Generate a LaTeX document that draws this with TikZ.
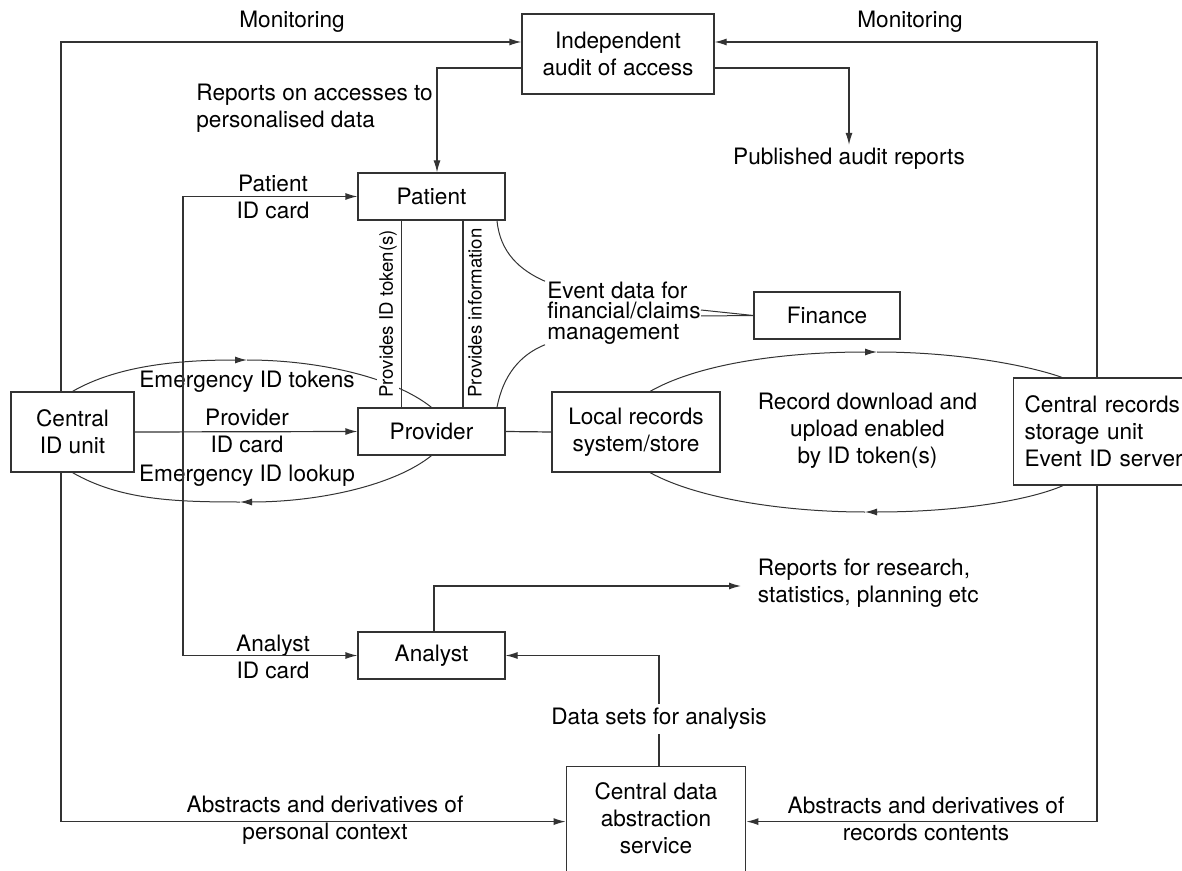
\documentclass[tikz,border=0pt]{standalone}
\usepackage{fontspec}
\setmainfont{TeX Gyre Heros}
\usepackage{tikz}
\usetikzlibrary{arrows.meta}
\tikzstyle{process} = [rectangle, minimum width=73.5pt, minimum height=23.5pt, inner sep=0pt, align=center, draw=black!80, line width=0.6pt]
\tikzstyle{note} = [inner sep=0pt, align=center]
\tikzstyle{sidenote} = [inner sep=1pt, rotate=90, font=\fontsize{9.3}{11}\selectfont]
\tikzstyle{link} = [draw=black!80, line width=0.6pt]
\tikzstyle{curve} = [draw=black!80, line width=0.5pt]
\tikzstyle{arrow} = [draw=black!80, line width=0.6pt, ->, >={Latex[length=6pt,width=3.5pt]}]

\begin{document}
\begin{tikzpicture}[x=0.5pt, y=-0.5pt, font=\fontsize{11.3}{13.5}\selectfont]
\useasboundingbox (0,0) rectangle (1182,871);

% boxes
\node (audit) [process, minimum width=96pt, minimum height=40pt] at (618,54) {Independent\\audit of access};
\node (patient) [process] at (431.5,196.5) {Patient};
\node (provider) [process] at (431.5,431.5) {Provider};
\node (analyst) [process] at (431.5,655.5) {Analyst};
\node (central) [process, minimum width=61.5pt, minimum height=40pt] at (72.5,432) {Central\\ID unit};
\node (local) [process, minimum width=84pt, minimum height=40pt] at (636,432) {Local records\\system/store};
\node (finance) [process, minimum width=73pt] at (827,315.5) {Finance};
\node (records) [process, anchor=west, text width=85pt, inner xsep=5.5pt, minimum height=53.5pt, align=left] at (1013,431.5) {Central records\\storage unit\\Event ID server};
\node (abstr) [process, anchor=north, minimum width=89.75pt, minimum height=55pt] at (656,766) {};
\node (abstrtxt) [note] at (656,818) {Central data\\abstraction\\service};

% labels
\node (monleft) [note] at (292,22) {Monitoring};
\node (monright) [note] at (910,22) {Monitoring};
\node (reptxt) [note, align=left, anchor=west] at (196,108.5) {Reports on accesses to\\personalised data};
\node (published) [note] at (849,159) {Published audit reports};
\node (patcard) [note] at (273,196.5) {Patient\\ID card};
\node (provcard) [note] at (247,430.5) {Provider\\ID card};
\node (anacard) [note] at (273,656.5) {Analyst\\ID card};
\node (emtok) [note] at (247,382) {Emergency ID tokens};
\node (emlook) [note] at (247,476) {Emergency ID lookup};
\node (eventtxt) [note, align=left, anchor=west, font=\fontsize{11.3}{10.3}\selectfont] at (547,313) {Event data for\\financial/claims\\management};
\node (recdl) [note] at (867.5,431) {Record download and\\upload enabled\\by ID token(s)};
\node (resrep) [note, align=left, anchor=west] at (757.5,583.5) {Reports for research,\\statistics, planning etc};
\node (datasets) [note, inner sep=2pt] at (659,719) {Data sets for analysis};
\node (absleft) [note] at (325,820) {Abstracts and derivatives of\\personal context};
\node (absright) [note] at (926,818.5) {Abstracts and derivatives of\\records contents};
\node (provinfo) [sidenote] at (475,313) {Provides information};

\coordinate (cardjoin) at (183,432);
\coordinate (tokpeak) at (247,360);
\coordinate (lookpeak) at (240,502);
\coordinate (dlpeak) at (877,352);
\coordinate (ulpeak) at (865,512);
\coordinate (resin) at (741,586);

% monitoring and abstracts
\draw [arrow] ([xshift=-5.75pt]central.north) |- ([yshift=6pt]audit.west);
\draw [arrow] ([xshift=42pt]records.north west) |- ([yshift=6pt]audit.east);
\draw [arrow] ([xshift=-5.75pt]central.south) |- (abstr.west);
\draw [arrow] ([xshift=42pt]records.south west) |- (abstr.east);
\draw [arrow] ([yshift=-7pt]audit.west) -| ([xshift=2.75pt]patient.north);
\draw [arrow] ([yshift=-7pt]audit.east) -| ([yshift=1.5pt]published.north);

% ID cards
\draw [arrow] (central.east) -- (provider.west);
\draw [arrow] (cardjoin) |- (patient.west);
\draw [arrow] (cardjoin) |- (analyst.west);

% patient / provider
\draw [link] ([xshift=-15pt]patient.south) -- ([xshift=-15pt]provider.north);
\draw [link] ([xshift=15.75pt]patient.south) -- ([xshift=15.75pt]provider.north);
\draw [curve] ([xshift=32.75pt]patient.south) .. controls +(3,32) and +(-25,-11) .. ([xshift=-1pt]eventtxt.north west);
\draw [curve] ([xshift=32.75pt]provider.north) .. controls +(6,-32) and +(-25,10) .. ([xshift=-1pt]eventtxt.south west);
\draw [curve] ([yshift=1.5pt]eventtxt.east) -- (finance.west);
\draw [curve] ([yshift=-1.5pt]eventtxt.east) -- (finance.west);
\draw [link] (provider.east) -- (local.west);

% emergency loop
\draw [arrow, curve] (central.north) .. controls (120,364) and (185,360) .. (tokpeak);
\draw [curve] (tokpeak) .. controls (320,360) and (395,378) .. (provider.north);
\draw [arrow, curve] (provider.south) .. controls (395,485) and (320,502) .. (lookpeak);
\draw [curve] (lookpeak) .. controls (175,502) and (120,500) .. (central.south);
\node (provtok) [sidenote, fill=white] at (388,314) {Provides ID token(s)};

% records loop
\draw [arrow, curve] ([xshift=7pt]local.north) .. controls (702,362) and (790,352) .. (dlpeak);
\draw [curve] (dlpeak) .. controls (960,352) and (1030,366) .. ([xshift=24.5pt]records.north west);
\draw [arrow, curve] ([xshift=25pt]records.south west) .. controls (1030,500) and (960,512) .. (ulpeak);
\draw [curve] (ulpeak) .. controls (790,512) and (700,500) .. ([xshift=7pt]local.south);

% analysis
\draw [arrow] ([xshift=1.25pt]analyst.north) |- (resin);
\draw [link] (datasets.south) -- (datasets.south |- abstr.north);
\draw [arrow] (datasets.north) |- (analyst.east);

\end{tikzpicture}
\end{document}
